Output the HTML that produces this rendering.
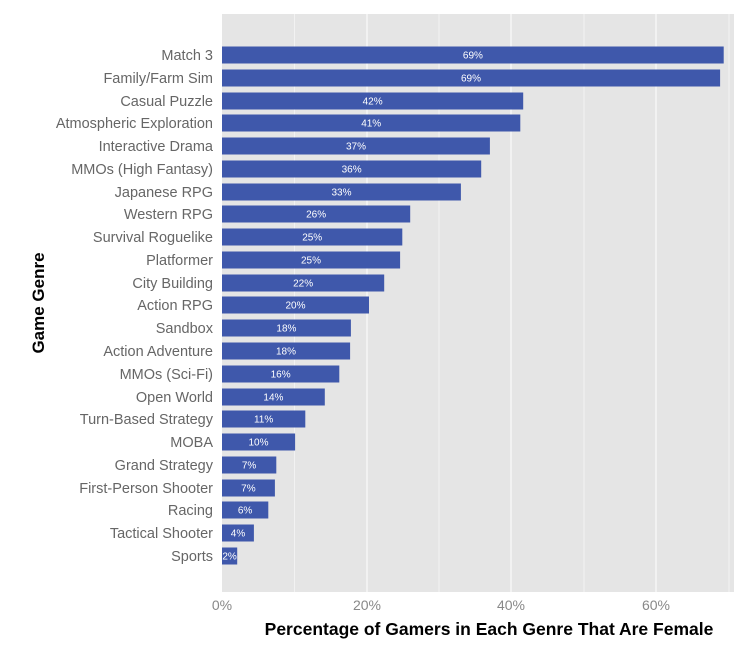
<!DOCTYPE html>
<html><head><meta charset="utf-8"><style>
body{margin:0;background:#fff;}
svg{display:block;font-family:"Liberation Sans",sans-serif;}
.b{fill:#3f58ab}.v{font-size:10px;fill:#fff;text-anchor:middle}.l{font-size:14.5px;fill:#666;text-anchor:end}
</style></head><body>
<svg width="734" height="648" viewBox="0 0 734 648">
<rect x="222" y="14" width="512" height="578" fill="#e5e5e5"/>
<g stroke="#fff">
<line x1="294.5" y1="14" x2="294.5" y2="592" stroke-width="0.5"/>
<line x1="439" y1="14" x2="439" y2="592" stroke-width="0.5"/>
<line x1="584" y1="14" x2="584" y2="592" stroke-width="0.5"/>
<line x1="729" y1="14" x2="729" y2="592" stroke-width="0.5"/>
<line x1="367" y1="14" x2="367" y2="592"/>
<line x1="511" y1="14" x2="511" y2="592"/>
<line x1="656" y1="14" x2="656" y2="592"/>
</g>
<g transform="translate(0,55)"><rect class="b" x="222" y="-8.5" width="501.7" height="17"/><text class="v" x="472.9" y="3.5">69%</text><text class="l" x="213" y="5">Match 3</text></g>
<g transform="translate(0,78)"><rect class="b" x="222" y="-8.5" width="498.1" height="17"/><text class="v" x="471" y="3.5">69%</text><text class="l" x="213" y="5">Family/Farm Sim</text></g>
<g transform="translate(0,101)"><rect class="b" x="222" y="-8.5" width="301.2" height="17"/><text class="v" x="372.6" y="3.5">42%</text><text class="l" x="213" y="5">Casual Puzzle</text></g>
<g transform="translate(0,123)"><rect class="b" x="222" y="-8.5" width="298.3" height="17"/><text class="v" x="371.2" y="3.5">41%</text><text class="l" x="213" y="5">Atmospheric Exploration</text></g>
<g transform="translate(0,146)"><rect class="b" x="222" y="-8.5" width="267.9" height="17"/><text class="v" x="356" y="3.5">37%</text><text class="l" x="213" y="5">Interactive Drama</text></g>
<g transform="translate(0,169)"><rect class="b" x="222" y="-8.5" width="259.2" height="17"/><text class="v" x="351.6" y="3.5">36%</text><text class="l" x="213" y="5">MMOs (High Fantasy)</text></g>
<g transform="translate(0,192)"><rect class="b" x="222" y="-8.5" width="238.9" height="17"/><text class="v" x="341.5" y="3.5">33%</text><text class="l" x="213" y="5">Japanese RPG</text></g>
<g transform="translate(0,214)"><rect class="b" x="222" y="-8.5" width="188.2" height="17"/><text class="v" x="316.1" y="3.5">26%</text><text class="l" x="213" y="5">Western RPG</text></g>
<g transform="translate(0,237)"><rect class="b" x="222" y="-8.5" width="180.3" height="17"/><text class="v" x="312.2" y="3.5">25%</text><text class="l" x="213" y="5">Survival Roguelike</text></g>
<g transform="translate(0,260)"><rect class="b" x="222" y="-8.5" width="178.1" height="17"/><text class="v" x="311" y="3.5">25%</text><text class="l" x="213" y="5">Platformer</text></g>
<g transform="translate(0,283)"><rect class="b" x="222" y="-8.5" width="162.2" height="17"/><text class="v" x="303.1" y="3.5">22%</text><text class="l" x="213" y="5">City Building</text></g>
<g transform="translate(0,305)"><rect class="b" x="222" y="-8.5" width="147" height="17"/><text class="v" x="295.5" y="3.5">20%</text><text class="l" x="213" y="5">Action RPG</text></g>
<g transform="translate(0,328)"><rect class="b" x="222" y="-8.5" width="128.9" height="17"/><text class="v" x="286.4" y="3.5">18%</text><text class="l" x="213" y="5">Sandbox</text></g>
<g transform="translate(0,351)"><rect class="b" x="222" y="-8.5" width="128.1" height="17"/><text class="v" x="286" y="3.5">18%</text><text class="l" x="213" y="5">Action Adventure</text></g>
<g transform="translate(0,374)"><rect class="b" x="222" y="-8.5" width="117.3" height="17"/><text class="v" x="280.6" y="3.5">16%</text><text class="l" x="213" y="5">MMOs (Sci-Fi)</text></g>
<g transform="translate(0,397)"><rect class="b" x="222" y="-8.5" width="102.8" height="17"/><text class="v" x="273.4" y="3.5">14%</text><text class="l" x="213" y="5">Open World</text></g>
<g transform="translate(0,419)"><rect class="b" x="222" y="-8.5" width="83.3" height="17"/><text class="v" x="263.6" y="3.5">11%</text><text class="l" x="213" y="5">Turn-Based Strategy</text></g>
<g transform="translate(0,442)"><rect class="b" x="222" y="-8.5" width="73.1" height="17"/><text class="v" x="258.5" y="3.5">10%</text><text class="l" x="213" y="5">MOBA</text></g>
<g transform="translate(0,465)"><rect class="b" x="222" y="-8.5" width="54.3" height="17"/><text class="v" x="249.1" y="3.5">7%</text><text class="l" x="213" y="5">Grand Strategy</text></g>
<g transform="translate(0,488)"><rect class="b" x="222" y="-8.5" width="52.9" height="17"/><text class="v" x="248.4" y="3.5">7%</text><text class="l" x="213" y="5">First-Person Shooter</text></g>
<g transform="translate(0,510)"><rect class="b" x="222" y="-8.5" width="46.3" height="17"/><text class="v" x="245.1" y="3.5">6%</text><text class="l" x="213" y="5">Racing</text></g>
<g transform="translate(0,533)"><rect class="b" x="222" y="-8.5" width="31.9" height="17"/><text class="v" x="238" y="3.5">4%</text><text class="l" x="213" y="5">Tactical Shooter</text></g>
<g transform="translate(0,556)"><rect class="b" x="222" y="-8.5" width="15.2" height="17"/><text class="v" x="229.6" y="3.5">2%</text><text class="l" x="213" y="5">Sports</text></g>
<g font-size="14" fill="#888" text-anchor="middle">
<text x="222" y="610">0%</text><text x="367" y="610">20%</text><text x="511" y="610">40%</text><text x="656" y="610">60%</text>
</g>
<text x="489" y="635" font-size="17.5" font-weight="bold" text-anchor="middle" fill="#000">Percentage of Gamers in Each Genre That Are Female</text>
<text transform="translate(44,303) rotate(-90)" font-size="17" font-weight="bold" text-anchor="middle" fill="#000">Game Genre</text>
</svg>
</body></html>
